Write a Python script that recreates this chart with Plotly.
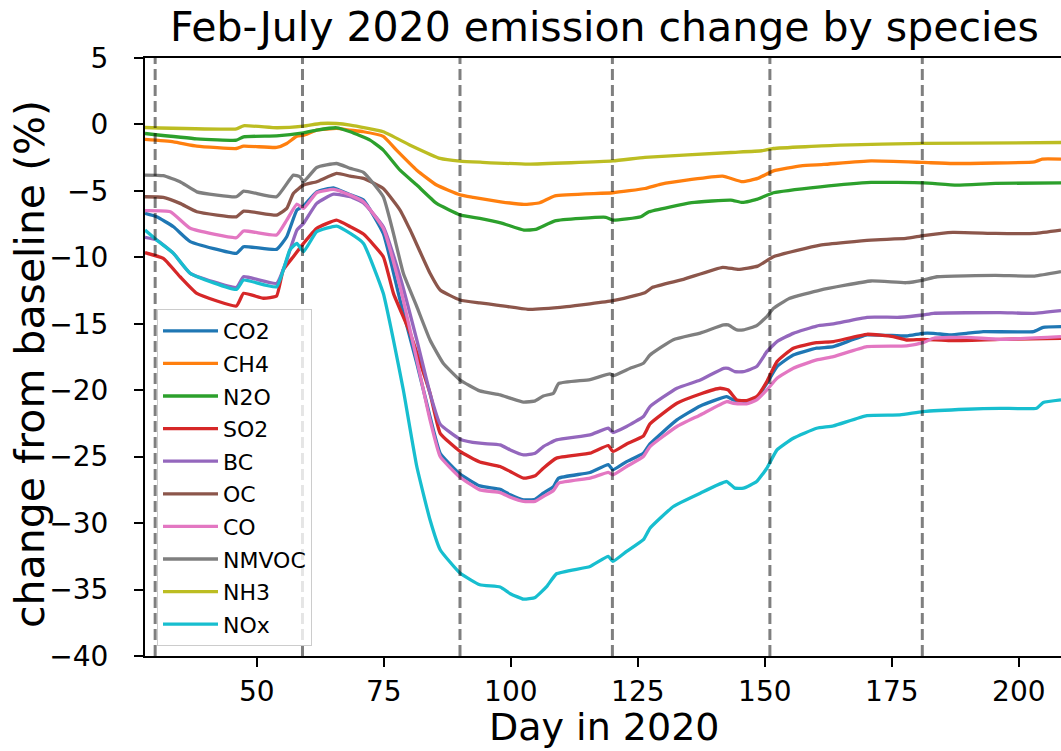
import plotly.graph_objects as go

# ---- data ----
co2_days = [28, 30.3, 33.6, 36.9, 46, 47.4, 53.9, 55.9, 57.9, 59.2, 61.8, 65.1, 68.4, 71, 74.9, 78.2, 81.5, 84.1, 86.1, 90, 93.9, 97.9, 99.9, 102.5, 104.8, 106.4, 108.4, 109.4, 115.6, 119.2, 120.1, 122.8, 126.1, 127.4, 132.7, 137.3, 142.5, 143.8, 146.4, 148.4, 150.4, 152.4, 155.6, 160.2, 163.5, 170.1, 177.9, 181.1, 183.2, 186.5, 189.7, 193, 202.9, 204.8, 208.3]
co2_vals = [-6.69, -6.95, -7.7, -8.82, -9.70, -9.2, -9.4, -8.45, -6.44, -6.14, -5.07, -4.77, -5.3, -5.69, -8.2, -13.21, -17.97, -21.98, -24.74, -26.3, -27.2, -27.45, -27.87, -28.25, -28.2, -27.75, -27.25, -26.62, -26.19, -25.6, -25.99, -25.37, -24.74, -24.04, -22.23, -21.18, -20.48, -20.73, -20.85, -20.6, -19.48, -18.22, -17.35, -16.84, -16.72, -15.84, -15.92, -15.72, -15.72, -15.84, -15.72, -15.59, -15.59, -15.27, -15.22]

ch4_days = [28, 33.6, 38.2, 46, 47.4, 53.9, 55.9, 57.9, 59.2, 61.8, 65.7, 68.4, 71, 74.9, 77.5, 81.5, 85.4, 90, 92.6, 98, 102.6, 105.7, 108.7, 120.1, 126.4, 129.4, 135.6, 141.7, 145.6, 148.6, 151.7, 157.1, 161.6, 170.9, 181.2, 187, 203.1, 204.6, 208.3]
ch4_vals = [-1.13, -1.31, -1.63, -1.81, -1.63, -1.73, -1.43, -0.88, -0.81, -0.43, -0.30, -0.43, -0.55, -0.9, -1.93, -3.44, -4.56, -5.3, -5.49, -5.82, -6.02, -5.89, -5.37, -5.14, -4.82, -4.51, -4.14, -3.89, -4.31, -4.06, -3.49, -3.11, -3.01, -2.74, -2.86, -2.94, -2.81, -2.61, -2.61]

n2o_days = [28, 38.2, 46, 47.4, 53.9, 59.2, 61.8, 65.7, 68.4, 72.3, 74.9, 78.2, 81.5, 85.4, 90, 93.9, 98, 102.6, 104.9, 108.7, 118.7, 120.1, 125.6, 127.2, 135.6, 143.3, 145.6, 148.6, 151.7, 160.9, 170.9, 181.2, 187.8, 195.4, 208.3]
n2o_vals = [-0.68, -1.08, -1.18, -0.93, -0.86, -0.63, -0.43, -0.25, -0.55, -1.18, -1.93, -3.44, -4.56, -5.94, -6.8, -7.07, -7.40, -7.95, -7.90, -7.25, -6.99, -7.20, -6.95, -6.57, -5.89, -5.69, -5.87, -5.62, -5.14, -4.69, -4.36, -4.39, -4.56, -4.44, -4.39]

so2_days = [28, 31.6, 34.9, 38.2, 46, 47.4, 51.3, 53.9, 55.2, 57.2, 59.2, 61.8, 65.7, 68.4, 71, 74.9, 76.9, 80.2, 84.1, 86.1, 90, 93.9, 97.9, 99.9, 102.5, 104.8, 106.4, 109, 115.6, 119.2, 120.1, 122.8, 126.1, 127.4, 132.7, 137.3, 141.2, 142.8, 144.5, 146.4, 148.4, 150.4, 152.4, 155.6, 160.2, 163.5, 170.1, 175.3, 177.9, 181.1, 186.5, 196.3, 208.3]
so2_vals = [-9.65, -10.08, -11.46, -12.71, -13.66, -12.71, -13.08, -12.91, -10.95, -9.95, -8.95, -7.82, -7.2, -7.7, -8.25, -9.95, -12.71, -15.72, -20.23, -23.24, -24.6, -25.4, -25.74, -26.12, -26.62, -26.44, -25.87, -25.11, -24.74, -24.16, -24.61, -24.04, -23.44, -22.53, -20.98, -20.28, -19.85, -19.98, -20.73, -20.78, -20.48, -19.35, -17.85, -16.84, -16.42, -16.34, -15.79, -15.97, -16.22, -16.17, -16.27, -16.17, -16.09]

bc_days = [28, 30.3, 33.6, 36.9, 46, 47.4, 53.9, 55.9, 57.9, 59.2, 61.8, 65.1, 68.4, 71, 74.9, 78.2, 81.5, 84.1, 86.1, 90, 93.9, 97.9, 99.9, 102.5, 104.8, 106.4, 109, 115.6, 119.2, 120.1, 122.8, 126.1, 127.4, 132.7, 137.3, 141.9, 142.8, 144.1, 145.8, 148.4, 150.4, 152.4, 155.6, 160.2, 163.5, 170.1, 176.6, 181.1, 183.2, 196.3, 202.9, 208.3]
bc_vals = [-8.5, -8.7, -9.7, -11.2, -12.26, -11.46, -11.96, -10.2, -7.95, -7.45, -5.94, -5.24, -5.44, -5.9, -7.7, -11.46, -16.22, -20.23, -22.55, -23.68, -23.99, -24.11, -24.49, -24.86, -24.74, -24.24, -23.74, -23.36, -22.86, -23.18, -22.73, -21.98, -21.23, -19.85, -19.23, -18.35, -18.35, -18.6, -18.6, -18.22, -17.1, -16.34, -15.72, -15.17, -15.01, -14.51, -14.51, -14.34, -14.21, -14.16, -14.21, -14.01]

oc_days = [28, 31.6, 34.9, 38.2, 46, 47.4, 53.9, 55.9, 57.2, 59.2, 61.8, 65.7, 68.4, 71, 74.9, 78.2, 80.2, 84.1, 86.1, 90, 93.9, 97.2, 103.4, 111, 120.1, 126.4, 127.9, 134, 141.7, 144.8, 148.6, 151.7, 160.9, 170.9, 177.8, 181.2, 187, 195.4, 203.1, 208.3]
oc_vals = [-5.44, -5.49, -5.94, -6.57, -6.95, -6.52, -6.82, -6.32, -5.19, -4.56, -4.31, -3.69, -3.89, -4.06, -4.82, -6.44, -7.95, -11.2, -12.46, -13.21, -13.43, -13.59, -13.91, -13.71, -13.26, -12.66, -12.26, -11.66, -10.75, -10.91, -10.66, -9.95, -9.08, -8.7, -8.58, -8.37, -8.12, -8.2, -8.2, -7.95]

co_days = [28, 33, 36.9, 46, 47.4, 53.9, 55.9, 57.9, 59.2, 61.8, 65.1, 68.4, 71, 74.9, 78.2, 81.5, 84.1, 86.1, 90, 93.9, 97.9, 99.9, 102.5, 104.8, 106.4, 108.4, 109.4, 115.6, 119.2, 120.1, 122.8, 126.1, 127.4, 132.7, 137.3, 142.5, 143.8, 146.4, 148.4, 150.4, 152.4, 155.6, 160.2, 163.5, 170.1, 177.9, 181.1, 183.2, 189.7, 196.3, 208.3]
co_vals = [-6.49, -6.57, -7.82, -8.52, -8.02, -8.32, -7.2, -5.99, -6.32, -5.14, -4.89, -5.32, -5.82, -7.82, -12.21, -17.72, -22.23, -24.99, -26.55, -27.5, -27.7, -28.05, -28.37, -28.37, -28.0, -27.55, -27.0, -26.62, -26.19, -26.37, -25.74, -24.99, -24.24, -22.73, -21.86, -20.85, -20.98, -21.03, -20.73, -19.98, -19.1, -18.35, -17.72, -17.47, -16.72, -16.67, -16.42, -16.09, -16.02, -16.17, -15.97]

nmvoc_days = [28, 31.6, 34.9, 38.2, 46, 47.4, 53.9, 57.2, 58.5, 59.2, 61.8, 65.7, 68.4, 71, 74.9, 76.9, 78.85, 81.5, 84.1, 86.7, 90, 93.9, 97.9, 99.9, 102.5, 104.8, 106.4, 108.4, 109.4, 115.6, 119.5, 120.2, 123.5, 126.1, 127.4, 132, 137.3, 141.9, 142.8, 144.5, 145.8, 148.4, 150.4, 151.7, 154.8, 160.9, 170.9, 177.8, 181.2, 183.9, 195.4, 203.1, 208.3]
nmvoc_vals = [-3.81, -3.86, -4.31, -5.07, -5.44, -5.02, -5.44, -3.81, -3.94, -4.31, -3.24, -2.94, -3.31, -3.6, -5.44, -8.2, -11.2, -13.71, -16.22, -17.97, -19.23, -20.05, -20.35, -20.6, -20.9, -20.8, -20.43, -20.23, -19.5, -19.2, -18.77, -18.9, -18.35, -17.97, -17.35, -16.2, -15.7, -15.09, -15.09, -15.46, -15.46, -15.14, -14.46, -13.84, -13.09, -12.46, -11.78, -11.91, -11.71, -11.46, -11.36, -11.41, -11.08]

nh3_days = [28, 46, 47.4, 54, 59.2, 62.5, 65.7, 68.4, 74.9, 80.2, 86.1, 90, 94, 103.4, 120.1, 126.4, 143.3, 149.4, 151.7, 164.8, 181.2, 208.3]
nh3_vals = [-0.23, -0.33, -0.10, -0.25, -0.13, 0.07, 0.07, -0.05, -0.55, -1.56, -2.56, -2.76, -2.84, -2.99, -2.74, -2.48, -2.11, -1.98, -1.81, -1.56, -1.43, -1.36]

nox_days = [28, 30.3, 33.6, 36.9, 46, 47.4, 53.9, 56.5, 57.9, 59.2, 61.8, 65.7, 68.4, 71, 74.9, 76.9, 78.85, 81.5, 84.1, 86.1, 90, 93.9, 97.9, 99.9, 102.5, 104.8, 107.1, 109, 115.6, 119.2, 120.1, 122.8, 126.1, 127.4, 132, 137.3, 142.5, 144.1, 145.8, 148.4, 150.4, 152.4, 155.6, 160.2, 163.5, 170.1, 176.6, 181.1, 189.7, 196.3, 203.5, 204.8, 208.3]
nox_vals = [-7.95, -8.7, -9.7, -11.2, -12.41, -11.71, -12.21, -9.45, -8.95, -9.58, -8.07, -7.65, -8.2, -8.95, -12.71, -16.22, -19.98, -25.74, -29.75, -32.0, -33.76, -34.64, -34.81, -35.31, -35.72, -35.59, -34.76, -33.81, -33.26, -32.5, -32.88, -32.13, -31.25, -30.38, -28.75, -27.75, -26.87, -27.37, -27.37, -26.87, -25.87, -24.49, -23.61, -22.86, -22.68, -21.91, -21.86, -21.61, -21.43, -21.36, -21.36, -20.93, -20.73]

species = ["CO2", "CH4", "N2O", "SO2", "BC", "OC", "CO", "NMVOC", "NH3", "NOx"]
month_boundaries = [30, 59, 90, 120, 151, 181]
y_ticks = [5, 0, -5, -10, -15, -20, -25, -30, -35, -40]
x_ticks = [50, 75, 100, 125, 150, 175, 200]

series_days = [co2_days, ch4_days, n2o_days, so2_days, bc_days, oc_days, co_days, nmvoc_days, nh3_days, nox_days]
series_vals = [co2_vals, ch4_vals, n2o_vals, so2_vals, bc_vals, oc_vals, co_vals, nmvoc_vals, nh3_vals, nox_vals]
colors = ["#1f77b4", "#ff7f0e", "#2ca02c", "#d62728", "#9467bd",
          "#8c564b", "#e377c2", "#7f7f7f", "#bcbd22", "#17becf"]

FONT = "DejaVu Sans"
W, H = 1061, 751
ML, MR, MT, MB = 145, 0, 58, 95

fig = go.Figure()
for i, name in enumerate(species):
    fig.add_trace(go.Scatter(
        x=series_days[i], y=series_vals[i], mode="lines", name=name,
        legendgroup=name,
        line=dict(color=colors[i], width=3.3, shape="spline", smoothing=0.4),
    ))

for d in month_boundaries:
    fig.add_shape(type="line", xref="x", yref="paper", x0=d, x1=d, y0=0, y1=1,
                  line=dict(color="rgba(0,0,0,0.5)", width=3, dash="11px,5px"),
                  layer="above")

def fmt(v):
    return ("\u2212" + str(abs(v))) if v < 0 else str(v)

fig.update_layout(
    width=W, height=H,
    margin=dict(l=ML, r=MR, t=MT, b=MB),
    paper_bgcolor="white", plot_bgcolor="white",
    font=dict(family=FONT, color="black"),
    showlegend=True,
    legend=dict(
        x=(157 - ML) / (W - ML - MR), y=(H - MB - 309) / (H - MT - MB),
        xanchor="left", yanchor="top",
        font=dict(size=22, family=FONT, color="black"),
        bgcolor="rgba(255,255,255,0.8)", bordercolor="#cccccc", borderwidth=1,
        tracegroupgap=1, itemwidth=55,
    ),
    xaxis=dict(
        range=[28, 208.3], showgrid=False, zeroline=False,
        showline=True, linecolor="black", linewidth=2, mirror=True,
        ticks="outside", ticklen=9, tickwidth=2, tickcolor="black",
        tickvals=x_ticks, ticktext=[str(v) for v in x_ticks],
        tickfont=dict(size=28, family=FONT, color="black"),
        ticklabelstandoff=0,
    ),
    yaxis=dict(
        range=[-40, 5], showgrid=False, zeroline=False,
        showline=True, linecolor="black", linewidth=2,
        ticks="outside", ticklen=9, tickwidth=2, tickcolor="black",
        tickvals=y_ticks, ticktext=[fmt(v) for v in y_ticks],
        tickfont=dict(size=28, family=FONT, color="black"),
        ticklabelstandoff=20,
    ),
)

ph = H - MT - MB
pw = W - ML - MR
fig.add_annotation(text="Feb-July 2020 emission change by species",
                   xref="paper", yref="paper",
                   x=(604 - ML) / pw, y=(H - MB - 27) / ph,
                   xanchor="center", yanchor="middle", showarrow=False,
                   font=dict(size=41, family=FONT, color="black"))
fig.add_annotation(text="Day in 2020", xref="paper", yref="paper",
                   x=(604 - ML) / pw, y=(H - MB - 727) / ph,
                   xanchor="center", yanchor="middle", showarrow=False,
                   borderpad=0,
                   font=dict(size=38, family=FONT, color="black"))
fig.add_annotation(text="change from baseline (%)", xref="paper", yref="paper",
                   x=(30 - ML) / pw, y=(H - MB - 364) / ph, textangle=-90,
                   xanchor="center", yanchor="middle", showarrow=False,
                   font=dict(size=41, family=FONT, color="black"))

fig.write_html("out.html")
